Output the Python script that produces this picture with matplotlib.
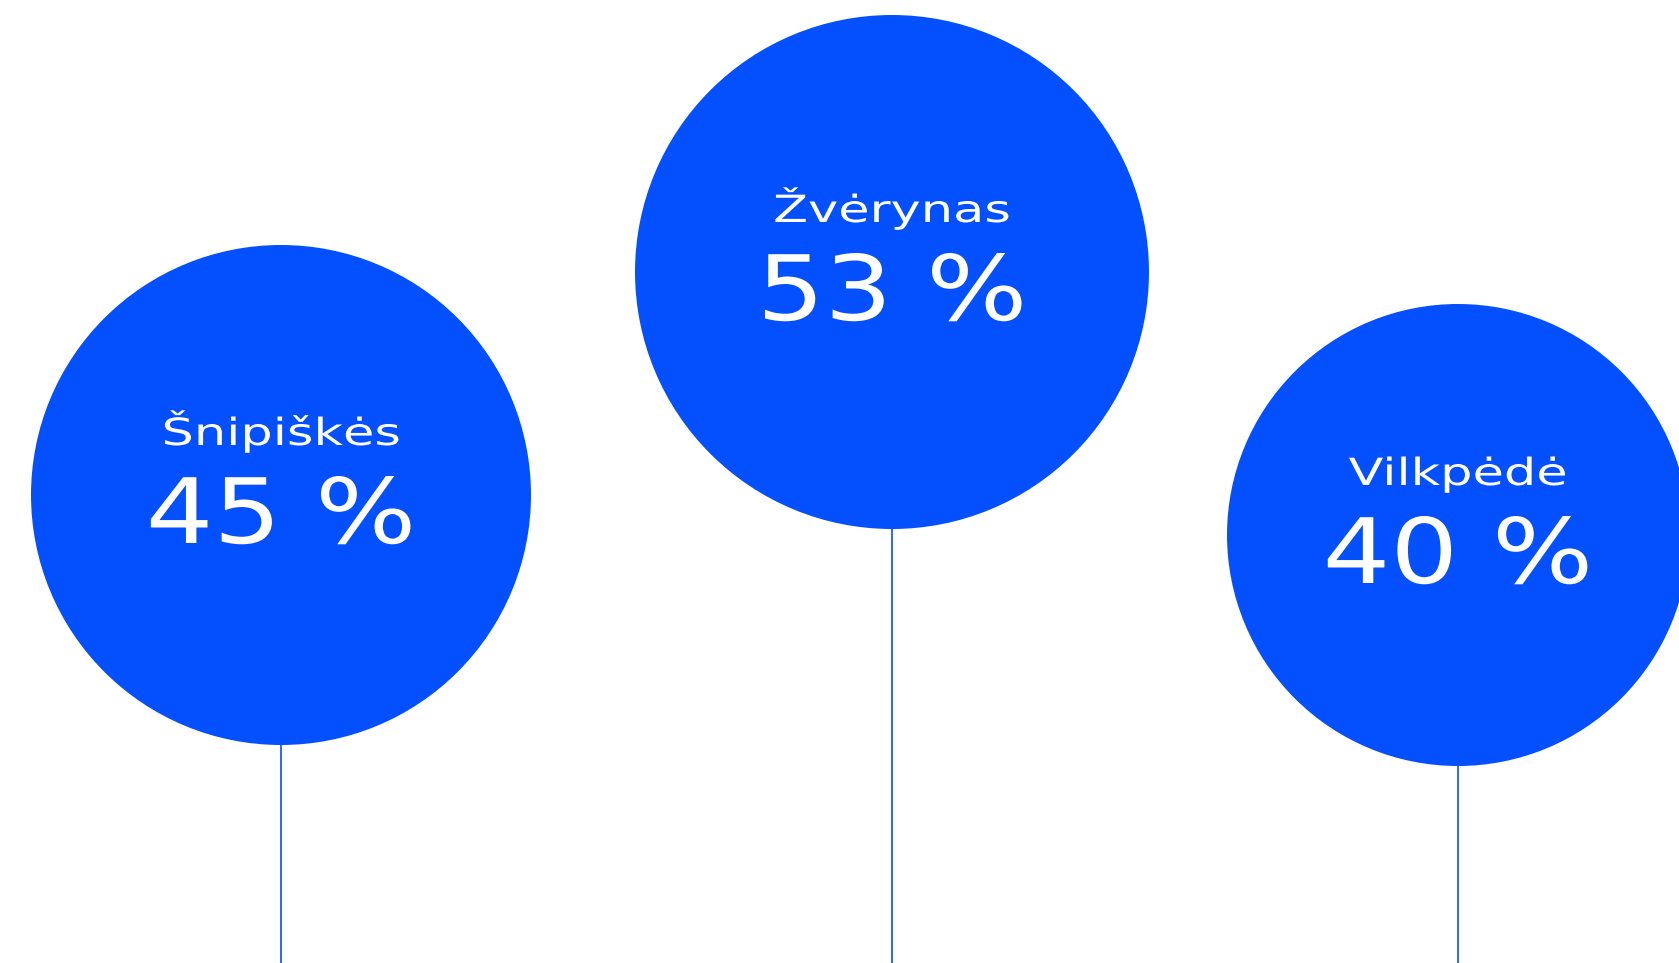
import matplotlib
matplotlib.use('Agg')
import matplotlib.pyplot as plt
from matplotlib.patches import Circle
from matplotlib.patheffects import AbstractPathEffect
from matplotlib.transforms import Affine2D

# district names and share values
districts = ['Šnipiškės', 'Žvėrynas', 'Vilkpėdė']
shares = [45, 53, 40]

# layout, in pixels of the 1679x963 picture
center_x = [281, 892, 1458]
center_y = [495, 272, 535]
radius = [250, 257, 231]

blue = '#0450FE'
W, H = 1679, 963


class Widen(AbstractPathEffect):
    # the original uses an extended typeface, so stretch glyphs sideways
    def __init__(self, sx, x0):
        super().__init__()
        self.sx = sx
        self.x0 = x0

    def draw_path(self, renderer, gc, tpath, affine, rgbFace=None):
        st = Affine2D().translate(-self.x0, 0).scale(self.sx, 1).translate(self.x0, 0)
        renderer.draw_path(gc, tpath, affine + st, rgbFace)


fig = plt.figure(figsize=(W/100, H/100), dpi=100)
ax = fig.add_axes([0, 0, 1, 1])
ax.set_xlim(0, W)
ax.set_ylim(H, 0)
ax.set_aspect('equal')
ax.axis('off')

for name, val, x, y, r in zip(districts, shares, center_x, center_y, radius):
    # stem from bottom of bubble to the bottom edge
    ax.vlines(x, y + r, H, color=blue, lw=1.2, zorder=1)
    ax.add_patch(Circle((x, y), r, color=blue, lw=0, zorder=2))
    xd = ax.transData.transform((x, y))[0]
    ax.text(x, y - 50, name, color='white', fontsize=27, ha='center', va='baseline',
            family='DejaVu Sans', zorder=3, path_effects=[Widen(1.36, xd)])
    ax.text(x, y + 48, '%d %%' % val, color='white', fontsize=65, ha='center', va='baseline',
            family='DejaVu Sans', zorder=3, path_effects=[Widen(1.18, xd)])

fig.savefig('out.png', dpi=100, facecolor='white')
